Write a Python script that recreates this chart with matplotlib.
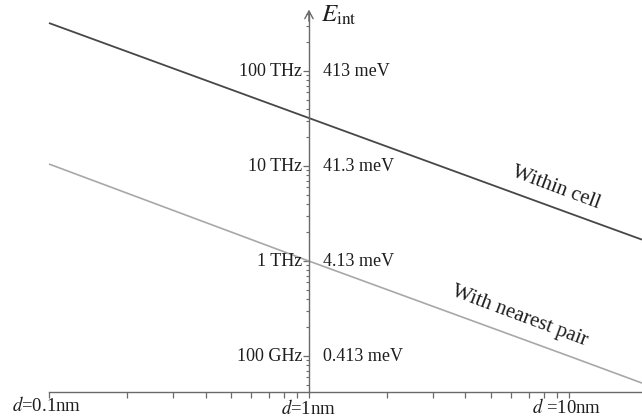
import numpy as np
import matplotlib
matplotlib.use("Agg")
import matplotlib.pyplot as plt
from matplotlib.ticker import FixedLocator, NullFormatter

plt.rcParams['font.family'] = ['Liberation Serif', 'DejaVu Serif']
plt.rcParams['mathtext.fontset'] = 'stix'

# values (distance in nm, energy as frequency in THz)
d_line = [0.1, 1.0, 10.0, 19.1]
within_cell = [320.0, 32.0, 3.2, 1.68]
nearest_pair = [10.5, 1.0, 0.1, 0.052]

freq_ticks = [0.1, 1.0, 10.0, 100.0]
freq_labels = ["100 GHz", "1 THz", "10 THz", "100 THz"]
mev_labels = ["0.413 meV", "4.13 meV", "41.3 meV", "413 meV"]

d_ticks = [0.1, 1.0, 10.0]
d_labels = [r"$d$=0.1nm", r"$d$=1nm", r"$d$ =10nm"]

axis_col = "#6a6a6a"
text_col = "#1e1e1e"

fig = plt.figure(figsize=(6.42, 4.18), dpi=100)
ax = fig.add_axes([0, 0, 1, 1])
ax.set_xscale("log")
ax.set_yscale("log")
ax.set_xlim(0.0648, 19.1)
ax.set_ylim(0.0223, 559)

y_axis = 0.0418
y_top = 418

# lines
ax.plot(d_line, within_cell, color="#474747", lw=1.3, solid_capstyle="butt")
ax.plot(d_line, nearest_pair, color="#a8a8a8", lw=1.2, solid_capstyle="butt")

# axes through d = 1 nm
for s in ["top", "right"]:
    ax.spines[s].set_visible(False)
ax.spines["left"].set_position(("data", 1.0))
ax.spines["bottom"].set_position(("data", y_axis))
ax.spines["left"].set_bounds(y_axis, y_top)
ax.spines["bottom"].set_bounds(0.1, 19.1)
for s in ["left", "bottom"]:
    ax.spines[s].set_color(axis_col)
    ax.spines[s].set_linewidth(1.0)

minor_x = [m * 10.0 ** e for e in (-1, 0) for m in range(2, 10)]
minor_y = [m * 10.0 ** e for e in (-2, -1, 0, 1, 2) for m in range(2, 10)]
minor_y = [v for v in minor_y if y_axis < v < y_top]
ax.xaxis.set_major_locator(FixedLocator(d_ticks))
ax.xaxis.set_minor_locator(FixedLocator(minor_x))
ax.yaxis.set_major_locator(FixedLocator(freq_ticks))
ax.yaxis.set_minor_locator(FixedLocator(minor_y))
ax.xaxis.set_major_formatter(NullFormatter())
ax.xaxis.set_minor_formatter(NullFormatter())
ax.yaxis.set_major_formatter(NullFormatter())
ax.yaxis.set_minor_formatter(NullFormatter())
ax.tick_params(axis="x", which="both", direction="out", length=4, width=0.9, color=axis_col)
ax.tick_params(axis="y", which="major", direction="out", length=4, width=0.9, color=axis_col)
ax.tick_params(axis="y", which="minor", direction="out", length=2.5, width=0.8, color=axis_col)

# arrow head at the top of the energy axis
ax.annotate("", xy=(1.0, y_top * 1.06), xytext=(1.0, y_top * 0.8),
            arrowprops=dict(arrowstyle="->,head_length=0.55,head_width=0.3",
                            color=axis_col, lw=1.0, shrinkA=0, shrinkB=0))
ax.text(1.115, 390, r"$E_{\rm int}$", fontsize=18, color=text_col, ha="left", va="center")

# energy labels on both sides of the axis
for v, fl, ml in zip(freq_ticks, freq_labels, mev_labels):
    ax.annotate(fl, xy=(1.0, v), xytext=(-5, -3.5), textcoords="offset points",
                ha="right", va="baseline", fontsize=13, color=text_col)
    ax.annotate(ml, xy=(1.0, v), xytext=(10, -3.5), textcoords="offset points",
                ha="left", va="baseline", fontsize=13, color=text_col)

# distance labels
d_off = [(-2, -9.5), (0, -11.5), (-2, -11)]
for v, lab, off in zip(d_ticks, d_labels, d_off):
    ax.annotate(lab, xy=(v, y_axis), xytext=off, textcoords="offset points",
                ha="center", va="center", fontsize=13.5, color=text_col)

ax.text(8.9, 5.87, "Within cell", fontsize=15, rotation=-20.5, color=text_col,
        ha="center", va="center", rotation_mode="anchor")
ax.text(6.48, 0.264, "With nearest pair", fontsize=15, rotation=-20.5, color=text_col,
        ha="center", va="center", rotation_mode="anchor")

fig.savefig("out.png", dpi=100)
